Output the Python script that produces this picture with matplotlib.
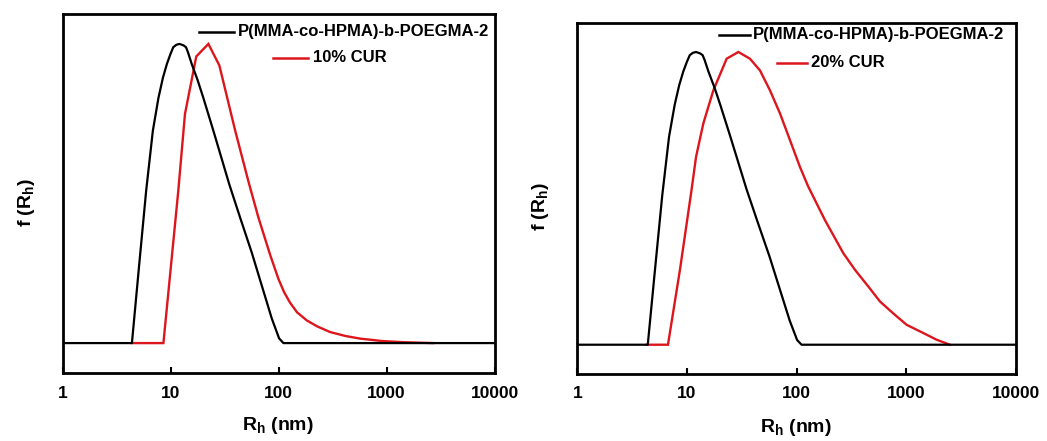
import matplotlib
matplotlib.use("Agg")
import matplotlib.pyplot as plt
from matplotlib.lines import Line2D

plt.rcParams['font.family'] = ['Liberation Sans', 'DejaVu Sans']
plt.rcParams['font.weight'] = 'bold'
plt.rcParams['mathtext.fontset'] = 'custom'
plt.rcParams['mathtext.rm'] = 'Liberation Sans:bold'
plt.rcParams['mathtext.bf'] = 'Liberation Sans:bold'
plt.rcParams['mathtext.it'] = 'Liberation Sans:bold'

# Hydrodynamic radius distributions, R_h in nm
copolymer_rh = [1, 4.39, 5.12, 5.95, 6.86, 7.73, 8.5, 9.25, 10.0, 10.6, 11.3, 12.1,
                13.2, 13.9, 14.5, 15.7, 17.8, 20.1, 24.9, 35.0, 44.0, 56.5, 69.9,
                86.5, 101, 110.8, 10000]
copolymer_f = [0, 0, 0.26, 0.51, 0.71, 0.82, 0.887, 0.933, 0.967, 0.989, 0.997, 1.0,
               0.995, 0.989, 0.972, 0.933, 0.879, 0.82, 0.71, 0.53, 0.42, 0.302, 0.192,
               0.082, 0.016, 0, 0]

cur10_rh = [4.39, 8.59, 11.8, 13.6, 17.3, 22.4, 28.3, 39.6, 52.6, 65.0, 83.5, 99.5,
            112.5, 127.7, 148, 182, 227, 299, 412, 567, 900, 1419, 2690]
cur10_f = [0, 0, 0.51, 0.766, 0.958, 1.0, 0.928, 0.711, 0.54, 0.42, 0.295, 0.215,
           0.17, 0.135, 0.103, 0.076, 0.056, 0.037, 0.024, 0.015, 0.007, 0.003, 0]

cur20_rh = [4.3, 6.71, 8.63, 11.0, 12.1, 14.1, 17.4, 23.0, 29.4, 37.5, 46.3, 57.1,
            70.5, 86.9, 107, 127.6, 181, 266, 340, 450, 574, 760, 1007, 1426, 1890, 2495]
cur20_f = [0, 0, 0.256, 0.528, 0.642, 0.756, 0.869, 0.977, 1.0, 0.977, 0.937, 0.869,
           0.790, 0.699, 0.608, 0.540, 0.426, 0.313, 0.256, 0.199, 0.148, 0.107, 0.068,
           0.040, 0.017, 0]

x_ticks = [1, 10, 100, 1000, 10000]
x_ticklabels = ['1', '10', '100', '1000', '10000']

copolymer_label = 'P(MMA-co-HPMA)-b-POEGMA-2'
cur_labels = ['10% CUR', '20% CUR']

BLACK = '#000000'
RED = '#dc161c'

W, H = 1047, 441
fig = plt.figure(figsize=(W / 100, H / 100), dpi=100)


def px_axes(left, right, top, bottom):
    return fig.add_axes([left / W, 1 - bottom / H, (right - left) / W, (bottom - top) / H])


panels = [
    dict(box=(62.5, 494.7, 14, 373), red=(cur10_rh, cur10_f), label=cur_labels[0],
         leg=dict(k=(0.3165, 0.3968, 0.9507, 0.4068), r=(0.4863, 0.5687, 0.8783, 0.5803)),
         ylab=(-0.060, 0.475), xlab=(0.499, -0.118)),
    dict(box=(577.3, 1016.0, 22.7, 374), red=(cur20_rh, cur20_f), label=cur_labels[1],
         leg=dict(k=(0.3237, 0.3937, 0.965, 0.4012), r=(0.4545, 0.5229, 0.8861, 0.5327)),
         ylab=(-0.059, 0.476), xlab=(0.4985, -0.121)),
]

for p in panels:
    ax = px_axes(*p['box'])
    ax.plot(copolymer_rh, copolymer_f, color=BLACK, lw=1.6, solid_joinstyle='round', zorder=3)
    ax.plot(p['red'][0], p['red'][1], color=RED, lw=1.7, solid_joinstyle='miter', zorder=2)
    ax.set_xscale('log')
    ax.set_xlim(1, 10000)
    ax.set_ylim(-0.1, 1.1)
    ax.set_xticks(x_ticks)
    ax.set_xticklabels(x_ticklabels)
    ax.xaxis.set_minor_locator(matplotlib.ticker.NullLocator())
    ax.set_yticks([])
    ax.tick_params(axis='x', direction='in', length=4, width=1.5, pad=9,
                   labelsize=12.5)
    for lab in ax.get_xticklabels():
        lab.set_fontweight('bold')
    for s in ax.spines.values():
        s.set_linewidth(2.0)

    ax.set_xlabel(r'R$_\mathbf{h}$ (nm)', fontsize=14, fontweight='bold')
    ax.xaxis.set_label_coords(*p['xlab'])
    ax.set_ylabel(r'f (R$_\mathbf{h}$)', fontsize=14, fontweight='bold')
    ax.yaxis.set_label_coords(*p['ylab'])

    # legend entries
    for key, color, text in (('k', BLACK, copolymer_label), ('r', RED, p['label'])):
        x0, x1, y, tx = p['leg'][key]
        ax.add_line(Line2D([x0, x1], [y, y], color=color, lw=1.8, transform=ax.transAxes))
        ax.text(tx, y, text, transform=ax.transAxes, ha='left', va='center',
                fontsize=12, fontweight='bold')

fig.savefig('out.png', dpi=100)
